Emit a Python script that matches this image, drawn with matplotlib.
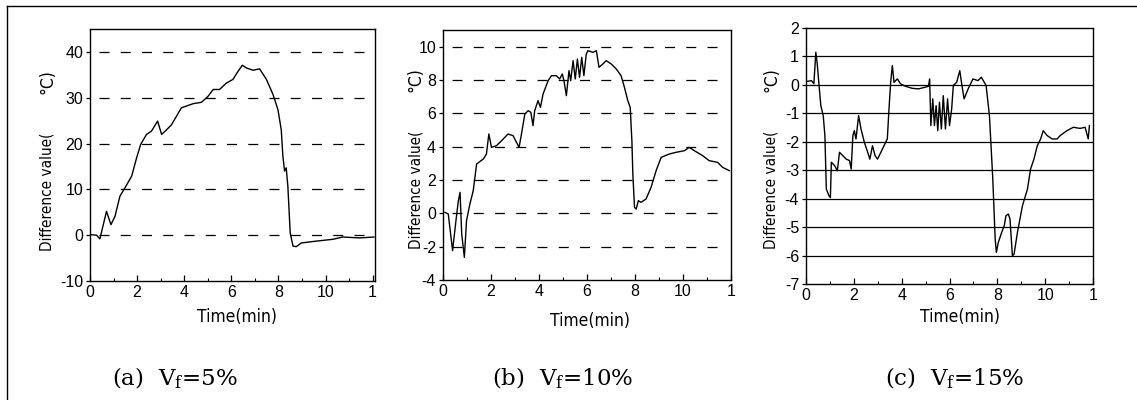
import matplotlib
matplotlib.use("Agg")
import matplotlib.pyplot as plt
from matplotlib.ticker import MultipleLocator
from matplotlib.lines import Line2D
from matplotlib import font_manager

# ---------------- data ----------------
t_a = [0.07, 0.28, 0.42, 0.70, 0.89, 1.06, 1.27, 1.48, 1.77, 1.98, 2.15, 2.40, 2.61, 2.87,
       3.04, 3.25, 3.46, 3.88, 4.38, 4.73, 5.01, 5.23, 5.50, 5.79, 6.07, 6.29, 6.47, 6.64,
       6.92, 7.20, 7.49, 7.77, 7.98, 8.12, 8.19, 8.26, 8.33, 8.40, 8.50, 8.62, 8.76, 8.97,
       9.60, 10.31, 10.73, 11.44, 12.05]
y_a = [0.1, 0.0, -0.8, 5.2, 2.3, 4.1, 8.5, 10.3, 12.9, 16.9, 19.8, 22.0, 22.7, 24.9,
       22.0, 23.0, 24.1, 27.8, 28.7, 29.0, 30.3, 31.8, 31.8, 33.2, 34.0, 35.8, 37.1, 36.5,
       36.0, 36.3, 34.0, 30.7, 27.4, 23.0, 17.2, 14.0, 14.7, 10.7, 0.5, -2.4, -2.5, -1.7,
       -1.3, -0.9, -0.4, -0.6, -0.4]

t_b = [0.08, 0.22, 0.40, 0.54, 0.64, 0.71, 0.78, 0.89, 0.98, 1.12, 1.26, 1.40, 1.68, 1.81,
       1.91, 2.02, 2.23, 2.51, 2.71, 2.92, 3.06, 3.17, 3.27, 3.41, 3.55, 3.66, 3.75, 3.82,
       3.96, 4.06, 4.17, 4.38, 4.52, 4.72, 4.86, 4.97, 5.04, 5.14, 5.25, 5.32, 5.42, 5.51,
       5.60, 5.69, 5.78, 5.87, 5.97, 6.04, 6.25, 6.39, 6.50, 6.66, 6.80, 7.01, 7.22, 7.42,
       7.56, 7.70, 7.80, 7.87, 7.91, 7.98, 8.05, 8.14, 8.25, 8.46, 8.67, 8.88, 9.09, 9.43,
       9.71, 10.06, 10.26, 10.47, 10.82, 11.09, 11.44, 11.65, 11.93]
y_b = [0.06, -0.04, -2.24, -0.44, 0.76, 1.26, -1.24, -2.64, -0.44, 0.56, 1.36, 2.96, 3.26, 3.56,
       4.76, 3.96, 4.06, 4.46, 4.76, 4.66, 4.26, 3.96, 4.76, 5.96, 6.16, 6.06, 5.26, 6.16,
       6.76, 6.36, 7.16, 7.96, 8.26, 8.26, 8.06, 8.36, 7.96, 7.06, 8.56, 7.96, 9.16, 8.06,
       9.26, 8.16, 9.36, 8.26, 9.56, 9.76, 9.66, 9.76, 8.76, 8.96, 9.16, 8.96, 8.66, 8.26,
       7.56, 6.76, 6.36, 4.36, 2.36, 0.36, 0.26, 0.76, 0.66, 0.86, 1.56, 2.56, 3.36, 3.56,
       3.66, 3.76, 3.96, 3.76, 3.46, 3.16, 3.06, 2.76, 2.56]

t_c = [0.03, 0.23, 0.33, 0.41, 0.47, 0.54, 0.62, 0.72, 0.79, 0.85, 0.96, 1.02, 1.06, 1.20,
       1.31, 1.40, 1.54, 1.68, 1.82, 1.89, 1.96, 2.02, 2.09, 2.20, 2.30, 2.44, 2.58, 2.67,
       2.78, 2.89, 2.99, 3.13, 3.26, 3.40, 3.47, 3.54, 3.61, 3.68, 3.82, 3.95, 4.16, 4.44,
       4.71, 4.99, 5.12, 5.17, 5.22, 5.30, 5.37, 5.44, 5.51, 5.58, 5.66, 5.74, 5.83, 5.92,
       6.00, 6.09, 6.16, 6.30, 6.43, 6.50, 6.61, 6.78, 6.98, 7.19, 7.33, 7.53, 7.67, 7.81,
       7.91, 7.96, 8.04, 8.18, 8.29, 8.36, 8.46, 8.53, 8.63, 8.70, 8.84, 9.05, 9.26, 9.39,
       9.53, 9.67, 9.81, 9.92, 10.08, 10.29, 10.50, 10.63, 10.91, 11.18, 11.46, 11.67, 11.80,
       11.85]
y_c = [0.12, 0.15, 0.04, 1.15, 0.74, 0.04, -0.73, -1.08, -1.78, -3.66, -3.90, -3.96, -2.72, -2.84,
       -3.02, -2.37, -2.49, -2.61, -2.66, -2.96, -1.78, -1.61, -1.90, -1.08, -1.55, -2.02, -2.37, -2.61,
       -2.14, -2.49, -2.61, -2.37, -2.14, -1.90, -0.85, 0.09, 0.68, 0.09, 0.21, 0.04, -0.05, -0.12,
       -0.14, -0.08, -0.05, 0.21, -1.43, -0.49, -1.43, -0.73, -1.61, -0.61, -1.55, -0.38, -1.55, -0.49,
       -1.43, -0.85, -0.02, 0.09, 0.50, 0.09, -0.49, -0.14, 0.21, 0.15, 0.27, -0.02, -1.08, -3.31,
       -5.42, -5.89, -5.54, -5.19, -4.95, -4.60, -4.54, -4.72, -6.01, -5.95, -5.19, -4.25, -3.66, -2.96,
       -2.61, -2.14, -1.90, -1.61, -1.78, -1.90, -1.90, -1.78, -1.61, -1.49, -1.53, -1.49, -1.90,
       -1.43]

x_ticks = [0, 2, 4, 6, 8, 10, 12]
x_ticklabels = ["0", "2", "4", "6", "8", "10", "1"]
yticks_a = [-10, 0, 10, 20, 30, 40]
yticks_b = [-4, -2, 0, 2, 4, 6, 8, 10]
yticks_c = [-7, -6, -5, -4, -3, -2, -1, 0, 1, 2]
captions = ["(a)  V$_\\mathrm{f}$=5%", "(b)  V$_\\mathrm{f}$=10%", "(c)  V$_\\mathrm{f}$=15%"]
xlabel = "Time(min)"
ylabel = "Difference value("
yunit = "°C)"

# ---------------- style ----------------
plt.rcParams["font.family"] = ["Liberation Sans", "DejaVu Sans"]
plt.rcParams["mathtext.fontset"] = "custom"
plt.rcParams["mathtext.rm"] = "DejaVu Serif"
plt.rcParams["mathtext.it"] = "DejaVu Serif:italic"

# look for an installed condensed sans face for the axis labels
label_font = dict(family=["Liberation Sans", "DejaVu Sans"], fontsize=10.5)
lab_size_x = 12
for f in font_manager.fontManager.ttflist:
    if f.name in ("Liberation Sans Narrow", "Arial Narrow"):
        label_font = dict(family=[f.name, "DejaVu Sans"], fontsize=12.5)
        lab_size_x = 13
        break
    if f.name == "DejaVu Sans" and str(f.stretch) in ("condensed", "semi-condensed"):
        label_font = dict(family=["DejaVu Sans"], fontstretch="condensed", fontsize=11)
        lab_size_x = 12.5

W, H = 1137, 400
fig = plt.figure(figsize=(W / 100, H / 100), dpi=100)

def fx(px):
    return px / W

def fy(py):
    return 1 - py / H

panels = [
    dict(l=90, r=375, t=29, b=281, ylim=(-10, 45), yt=yticks_a, t_=t_a, y_=y_a, xlim=(0, 12.1),
         grid="dashed", gx=(0.03, 1.0), ylab_x=47, ylab_y=192, unit_y=82, xl=(237, 317), cap=175),
    dict(l=443, r=731, t=30, b=280, ylim=(-4, 11), yt=yticks_b, t_=t_b, y_=y_b, xlim=(0, 12.0),
         grid="dashed", gx=(0.03, 0.955), ylab_x=416, ylab_y=190, unit_y=80, xl=(590, 321), cap=563),
    dict(l=806, r=1093, t=28, b=284, ylim=(-7, 2), yt=yticks_c, t_=t_c, y_=y_c, xlim=(0, 11.87),
         grid="solid", gx=(0.0, 1.0), ylab_x=771, ylab_y=190, unit_y=80, xl=(960, 317), cap=955),
]

for i, p in enumerate(panels):
    ax = fig.add_axes([fx(p["l"]), fy(p["b"]), fx(p["r"] - p["l"]), (p["b"] - p["t"]) / H])
    ax.plot(p["t_"], p["y_"], color="black", lw=1.0)
    ax.set_xlim(*p["xlim"])
    ax.set_ylim(*p["ylim"])
    ax.set_xticks(x_ticks)
    ax.set_xticklabels(x_ticklabels)
    ax.xaxis.set_minor_locator(MultipleLocator(1))
    ax.set_yticks(p["yt"])
    ax.set_yticklabels([str(v) for v in p["yt"]])
    for v in p["yt"][1:]:
        if v >= p["ylim"][1]:
            continue
        if p["grid"] == "dashed":
            ax.axhline(v, xmin=p["gx"][0], xmax=p["gx"][1], color="black", lw=0.9,
                       dashes=(8, 9))
        else:
            ax.axhline(v, color="black", lw=0.9)
    for s in ax.spines.values():
        s.set_linewidth(1.0)
    ax.tick_params(axis="both", which="major", labelsize=11.5, length=4, width=0.9,
                   colors="black", pad=2)
    ax.tick_params(axis="x", which="major", direction="in", pad=3)
    ax.tick_params(axis="x", which="minor", direction="in", length=2, width=0.8)
    ax.tick_params(axis="y", which="major", direction="out", length=3)
    # labels
    fig.text(fx(p["xl"][0]), fy(p["xl"][1]), xlabel, ha="center", va="center",
             **dict(label_font, fontsize=lab_size_x))
    fig.text(fx(p["ylab_x"]), fy(p["ylab_y"]), ylabel, ha="center", va="center",
             rotation=90, **label_font)
    fig.text(fx(p["ylab_x"]), fy(p["unit_y"]), yunit, ha="center", va="center",
             rotation=90, **dict(label_font, fontsize=label_font["fontsize"] + 1.5))
    fig.text(fx(p["cap"]), fy(378), captions[i], ha="center", va="center", fontsize=16.5,
             family=["DejaVu Serif"])

# outer frame (left and top edges)
fig.add_artist(Line2D([fx(7), fx(7)], [0, fy(6)], color="black", lw=1.0))
fig.add_artist(Line2D([fx(7), 1], [fy(6), fy(6)], color="black", lw=1.0))

fig.savefig("out.png", dpi=100)
